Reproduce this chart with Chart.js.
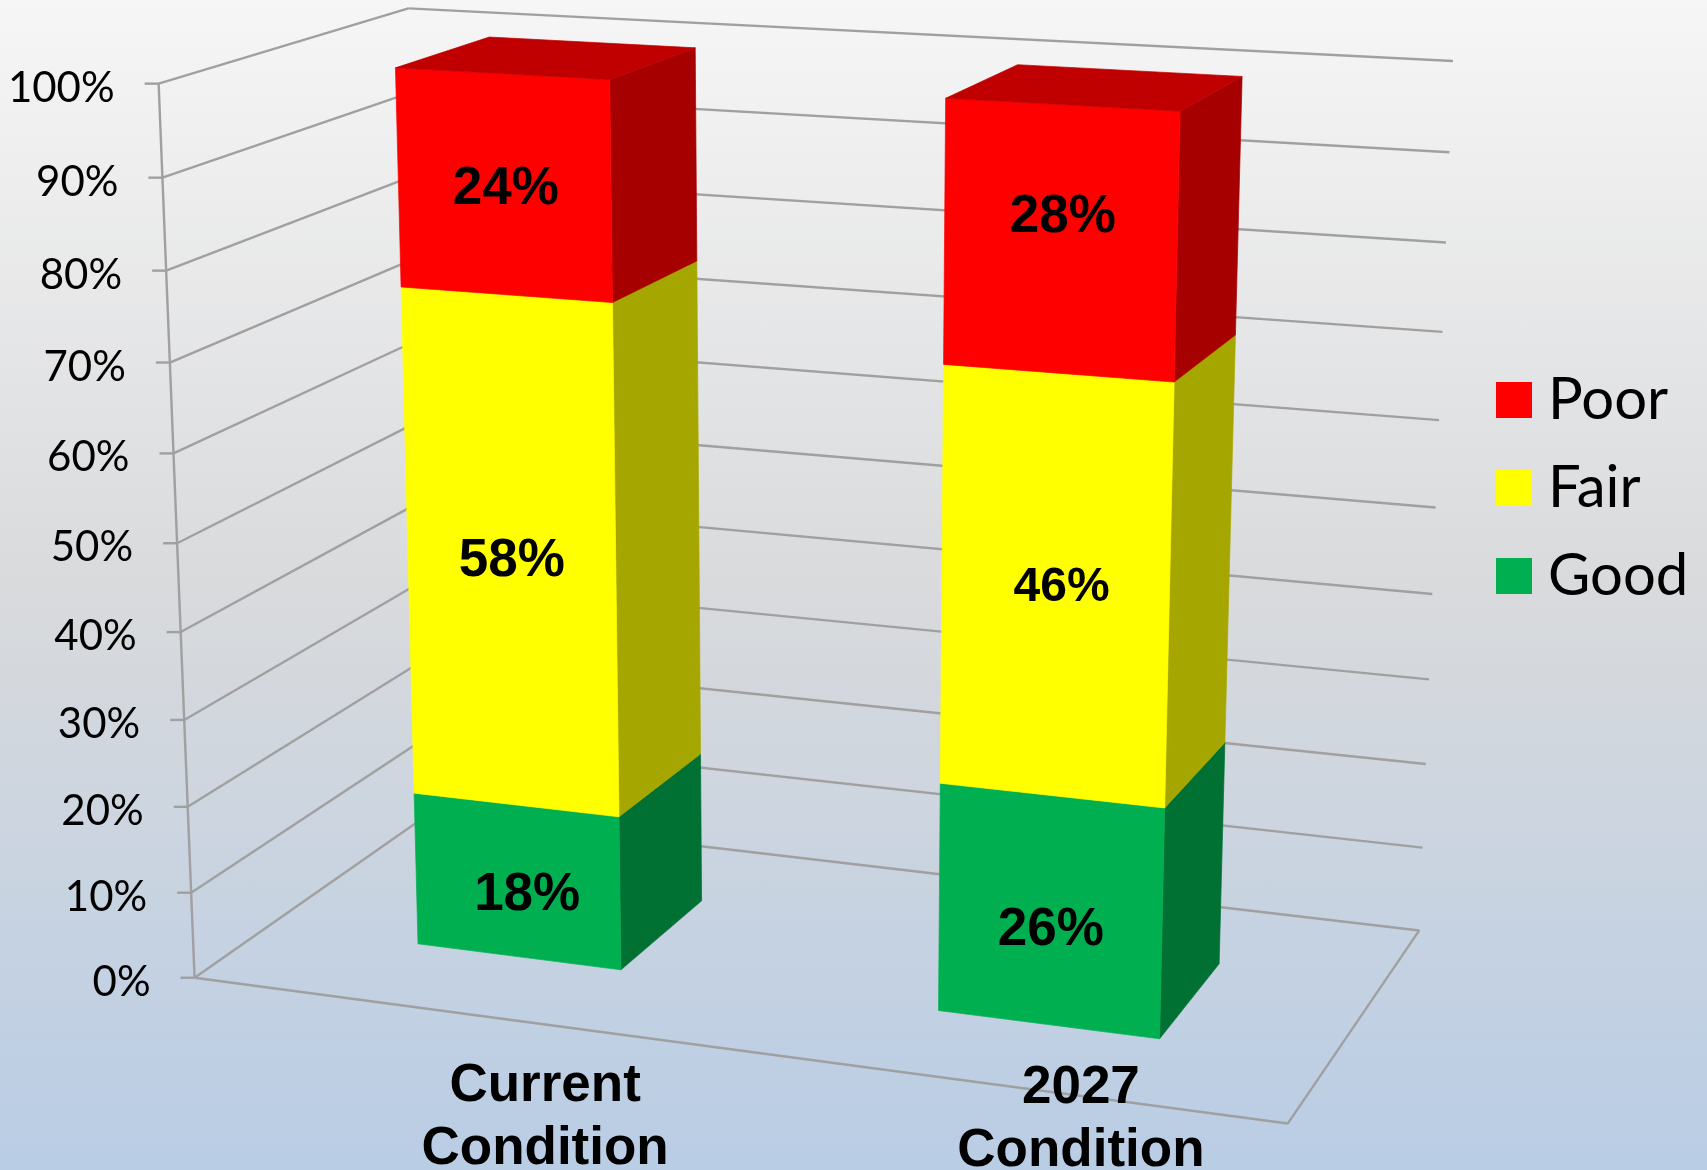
<!DOCTYPE html>
<html>
<head>
<meta charset="utf-8">
<title>Condition chart</title>
<script src="https://cdn.jsdelivr.net/npm/chart.js@4"></script>
<style>
  html, body { margin: 0; padding: 0; width: 1707px; height: 1170px; overflow: hidden; }
  body { background: linear-gradient(to bottom, #f6f6f6 0%, #d9dadc 50%, #b9cde5 100%); }
  canvas { display: block; }
</style>
</head>
<body>
<canvas id="conditionChart" width="1707" height="1170"></canvas>
<script>
const categories = [['Current', 'Condition'], ['2027', 'Condition']];
const seriesNames = ['Good', 'Fair', 'Poor'];
const goodValues = [18, 26];
const fairValues = [58, 46];
const poorValues = [24, 28];
const tickValues = [0, 10, 20, 30, 40, 50, 60, 70, 80, 90, 100];

const frontColors = ['#00b050', '#ffff00', '#ff0000'];
const sideColors = ['#007033', '#a6a600', '#a60000'];
const topColor = '#c00000';
const gridColor = '#a0a0a0';

// wall corners of the 3d box: u, v, w -> picture x, y
const wallCorners = [
  [0, 0, 0, 194, 977], [1, 0, 0, 1288, 1124], [1, 0, 1, 1419, 930], [0, 0, 1, 429, 815],
  [0, 1, 0, 159, 84], [0, 1, 1, 408, 8], [1, 1, 1, 1453, 61]
];
const barDepthFront = 0.3;
const barDepthBack = 0.7;

// hand placement of the value labels, by series then category: dx, dy, font size
const valueLabelPlacing = [
  [[10, 14, 53], [1, 20, 53]],
  [[1, 8, 53], [7, 1, 48]],
  [[2, 4, 53], [3, -23, 53]]
];
const categoryLabelPlacing = [[95, 1086], [85, 1088]];

function solveCamera(points) {
  const rows = [], rhs = [];
  points.forEach(([u, v, w, x, y]) => {
    const X = x / 1000, Y = y / 1000;
    rows.push([u, v, w, 1, 0, 0, 0, 0, -X * u, -X * v, -X * w]); rhs.push(X);
    rows.push([0, 0, 0, 0, u, v, w, 1, -Y * u, -Y * v, -Y * w]); rhs.push(Y);
  });
  const n = 11;
  const m = [];
  for (let i = 0; i < n; i++) {
    m.push([]);
    for (let j = 0; j < n; j++) m[i].push(rows.reduce((s, r) => s + r[i] * r[j], 0));
    m[i].push(rows.reduce((s, r, k) => s + r[i] * rhs[k], 0));
  }
  for (let c = 0; c < n; c++) {
    let best = c;
    for (let r = c + 1; r < n; r++) if (Math.abs(m[r][c]) > Math.abs(m[best][c])) best = r;
    [m[c], m[best]] = [m[best], m[c]];
    for (let r = 0; r < n; r++) {
      if (r === c) continue;
      const f = m[r][c] / m[c][c];
      for (let k = c; k <= n; k++) m[r][k] -= f * m[c][k];
    }
  }
  return m.map((r, i) => r[n] / r[i]);
}
const cam = solveCamera(wallCorners);

function project(u, v, w) {
  const d = cam[8] * u + cam[9] * v + cam[10] * w + 1;
  return {
    x: 1000 * (cam[0] * u + cam[1] * v + cam[2] * w + cam[3]) / d,
    y: 1000 * (cam[4] * u + cam[5] * v + cam[6] * w + cam[7]) / d
  };
}

function polygon(ctx, pts, color) {
  ctx.beginPath();
  pts.forEach((p, i) => i ? ctx.lineTo(p.x, p.y) : ctx.moveTo(p.x, p.y));
  ctx.closePath();
  ctx.fillStyle = color;
  ctx.strokeStyle = color;
  ctx.lineWidth = 0.7;
  ctx.fill();
  ctx.stroke();
}

function segment(ctx, a, b) {
  ctx.beginPath();
  ctx.moveTo(a.x, a.y);
  ctx.lineTo(b.x, b.y);
  ctx.stroke();
}

const perspectivePlugin = {
  id: 'perspective',
  beforeDatasetsDraw(chart) {
    const ctx = chart.ctx, area = chart.chartArea, yScale = chart.scales.y, xScale = chart.scales.x;
    const toU = px => (px - area.left) / area.width;
    const toV = py => (area.bottom - py) / area.height;

    // walls and floor
    ctx.save();
    ctx.strokeStyle = gridColor;
    ctx.lineWidth = 2.4;
    ctx.lineJoin = 'miter';
    tickValues.forEach(t => {
      const v = toV(yScale.getPixelForValue(t));
      const front = project(0, v, 0);
      segment(ctx, { x: front.x - 14, y: front.y }, front);
      segment(ctx, front, project(0, v, 1));
      segment(ctx, project(0, v, 1), project(1, v, 1));
    });
    segment(ctx, project(0, 0, 0), project(0, 1, 0));
    segment(ctx, project(0, 0, 0), project(1, 0, 0));
    segment(ctx, project(1, 0, 0), project(1, 0, 1));

    // tick labels
    ctx.fillStyle = '#000';
    ctx.font = '42px Lato';
    ctx.textAlign = 'right';
    ctx.textBaseline = 'middle';
    tickValues.forEach(t => {
      const p = project(0, toV(yScale.getPixelForValue(t)), 0);
      ctx.fillText(t + '%', p.x - 44, p.y + 4.5);
    });

    // bars
    const metas = chart.data.datasets.map((d, i) => chart.getDatasetMeta(i));
    categories.forEach((c, col) => {
      metas.forEach((meta, s) => {
        const bar = meta.data[col];
        const u0 = toU(bar.x - bar.width / 2), u1 = toU(bar.x + bar.width / 2);
        const v0 = toV(bar.base), v1 = toV(bar.y);
        polygon(ctx, [project(u1, v0, barDepthFront), project(u1, v0, barDepthBack), project(u1, v1, barDepthBack), project(u1, v1, barDepthFront)], sideColors[s]);
        polygon(ctx, [project(u0, v0, barDepthFront), project(u1, v0, barDepthFront), project(u1, v1, barDepthFront), project(u0, v1, barDepthFront)], frontColors[s]);
        if (s === metas.length - 1) {
          polygon(ctx, [project(u0, v1, barDepthFront), project(u1, v1, barDepthFront), project(u1, v1, barDepthBack), project(u0, v1, barDepthBack)], topColor);
        }
      });
    });

    // value labels
    ctx.fillStyle = '#000';
    ctx.textAlign = 'center';
    metas.forEach((meta, s) => {
      meta.data.forEach((bar, col) => {
        const p = project(toU(bar.x), toV((bar.y + bar.base) / 2), barDepthFront);
        const [dx, dy, size] = valueLabelPlacing[s][col];
        ctx.font = 'bold ' + size + 'px "Liberation Sans"';
        ctx.fillText(chart.data.datasets[s].data[col] + '%', p.x + dx, p.y + dy);
      });
    });

    // category labels
    ctx.font = 'bold 53px "Liberation Sans"';
    categories.forEach((lines, col) => {
      const p = project(toU(xScale.getPixelForValue(col)), 0, 0);
      const [dx, top] = categoryLabelPlacing[col];
      lines.forEach((line, i) => ctx.fillText(line, p.x + dx, top + i * 63));
    });

    // legend
    ctx.font = '58px Lato';
    ctx.textAlign = 'left';
    [...seriesNames].reverse().forEach((name, i) => {
      const rowY = 400 + i * 88;
      ctx.fillStyle = frontColors[seriesNames.length - 1 - i];
      ctx.fillRect(1496, rowY - 18, 36, 36);
      ctx.fillStyle = '#000';
      ctx.fillText(name, 1548, rowY);
    });
    ctx.restore();
    return false;
  }
};

new Chart(document.getElementById('conditionChart'), {
  type: 'bar',
  data: {
    labels: categories,
    datasets: [
      { label: seriesNames[0], data: goodValues, backgroundColor: frontColors[0] },
      { label: seriesNames[1], data: fairValues, backgroundColor: frontColors[1] },
      { label: seriesNames[2], data: poorValues, backgroundColor: frontColors[2] }
    ]
  },
  options: {
    responsive: false,
    animation: false,
    devicePixelRatio: 1,
    barPercentage: 0.4,
    categoryPercentage: 1,
    plugins: { legend: { display: false }, tooltip: { enabled: false } },
    scales: {
      x: { stacked: true, display: false },
      y: { stacked: true, display: false, min: 0, max: 100, ticks: { stepSize: 10 } }
    }
  },
  plugins: [perspectivePlugin]
});
</script>
</body>
</html>
